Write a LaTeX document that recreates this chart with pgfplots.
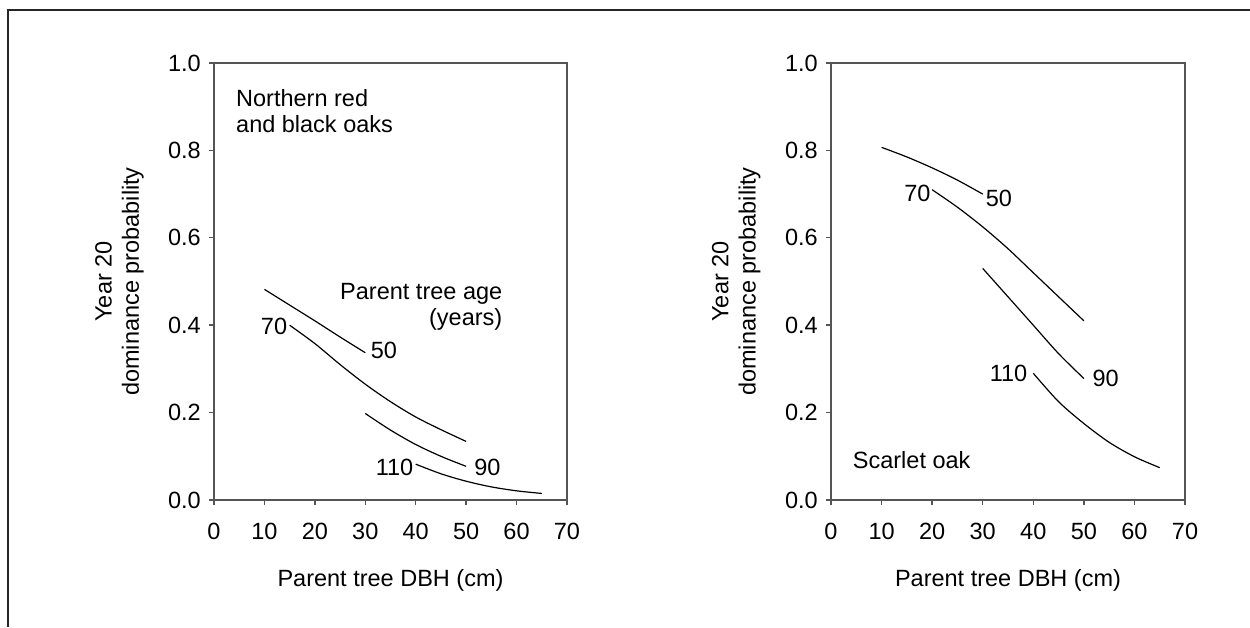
\documentclass[border=0pt]{standalone}
\usepackage{fontspec}
\setmainfont{Liberation Sans}
\usepackage{pgfplots}
\pgfplotsset{compat=1.18}
\definecolor{axgray}{RGB}{85,85,85}
\newcommand{\ff}{\fontsize{23.5}{26.5}\selectfont}
\tikzset{lab/.style={font=\ff, inner sep=0pt}}
\pgfplotsset{
  oakaxis/.style={
    scale only axis, height=437pt,
    xmin=0, xmax=70, ymin=0, ymax=1,
    xtick={0,10,20,30,40,50,60,70},
    xticklabels={0,10,20,30,40,50,60,70},
    ytick={0,0.2,0.4,0.6,0.8,1.0},
    yticklabels={0.0,0.2,0.4,0.6,0.8,1.0},
    tick align=outside, tick pos=left, major tick length=5pt,
    axis line style={axgray, line width=1.4pt},
    every tick/.style={axgray, line width=1.4pt},
    xticklabel style={font=\ff, anchor=base, inner sep=0pt, yshift=-34pt},
    yticklabel style={font=\ff, anchor=east, inner sep=0pt, xshift=-8pt},
    xlabel={Parent tree DBH (cm)},
    xlabel style={font=\ff, at={(axis description cs:0.5,-0.197)}, anchor=base, inner sep=0pt},
    ylabel={Year 20\\dominance probability},
    ylabel style={font=\fontsize{23.5}{27.3}\selectfont, align=center, at={(axis description cs:-0.268,0.5)}, anchor=center, inner sep=0pt},
    every axis plot post/.append style={black, line width=1.2pt, mark=none, smooth},
    clip=false,
  },
}
\begin{document}
\begin{tikzpicture}
\draw[line width=1.4pt, black!85] (8pt,0pt) -- (8pt,617pt) -- (1250pt,617pt);

% Left panel
\begin{axis}[oakaxis, width=353pt, at={(214pt,127pt)}, anchor=south west]
\addplot coordinates {(10,0.482) (15,0.446) (20,0.410) (25,0.373) (30,0.337)};
\addplot coordinates {(15,0.400) (20,0.358) (25,0.310) (30,0.265) (35,0.225) (40,0.190) (45,0.161) (50,0.134)};
\addplot coordinates {(30,0.198) (35,0.160) (40,0.127) (45,0.100) (50,0.077)};
\addplot coordinates {(40,0.082) (45,0.060) (50,0.043) (55,0.030) (60,0.021) (65,0.015)};
\node[lab, anchor=base] at (axis cs:11.9,0.378) {70};
\node[lab, anchor=base] at (axis cs:33.7,0.324) {50};
\node[lab, anchor=base] at (axis cs:54.2,0.057) {90};
\node[lab, anchor=base] at (axis cs:35.8,0.055) {110};
\node[lab, anchor=base east] at (axis cs:57.2,0.459) {Parent tree age};
\node[lab, anchor=base east] at (axis cs:57.2,0.400) {(years)};
\node[lab, anchor=base west] at (axis cs:4.36,0.900) {Northern red};
\node[lab, anchor=base west] at (axis cs:4.36,0.8405) {and black oaks};
\end{axis}

% Right panel
\begin{axis}[oakaxis, width=354pt, at={(831pt,127pt)}, anchor=south west]
\addplot coordinates {(10,0.807) (15,0.785) (20,0.760) (25,0.732) (30,0.700)};
\addplot coordinates {(20,0.710) (25,0.670) (30,0.625) (35,0.575) (40,0.520) (45,0.465) (50,0.410)};
\addplot coordinates {(30,0.530) (35,0.465) (40,0.400) (45,0.335) (50,0.278)};
\addplot coordinates {(40,0.290) (45,0.225) (50,0.175) (55,0.132) (60,0.099) (65,0.074)};
\node[lab, anchor=base] at (axis cs:33.2,0.671) {50};
\node[lab, anchor=base] at (axis cs:17.1,0.683) {70};
\node[lab, anchor=base] at (axis cs:54.3,0.260) {90};
\node[lab, anchor=base] at (axis cs:35.1,0.271) {110};
\node[lab, anchor=base west] at (axis cs:4.29,0.0725) {Scarlet oak};
\end{axis}

\pgfresetboundingbox
\useasboundingbox (0pt,0pt) rectangle (1250pt,627pt);
\end{tikzpicture}
\end{document}
